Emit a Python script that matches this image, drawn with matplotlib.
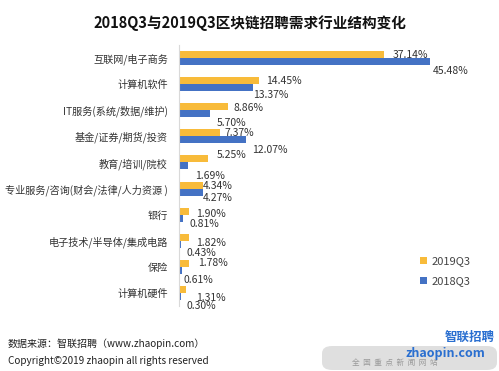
import matplotlib
matplotlib.use("Agg")
import matplotlib.pyplot as plt
from matplotlib.patches import FancyBboxPatch
import numpy as np

plt.rcParams['font.family'] = ['Noto Sans CJK SC', 'DejaVu Sans']

# data
categories = ["互联网/电子商务", "计算机软件", "IT服务(系统/数据/维护)", "基金/证券/期货/投资",
              "教育/培训/院校", "专业服务/咨询(财会/法律/人力资源 )", "银行",
              "电子技术/半导体/集成电路", "保险", "计算机硬件"]
q3_2019 = [37.14, 14.45, 8.86, 7.37, 5.25, 4.34, 1.90, 1.82, 1.78, 1.31]
q3_2018 = [45.48, 13.37, 5.70, 12.07, 1.69, 4.27, 0.81, 0.43, 0.61, 0.30]

# label offsets in pixels (dx from bar end, dy downward from bar centre)
off_2019 = [(9, 0), (7, 0), (6, 1), (5, 0), (9, -4), (0, 1), (6.5, 3), (7, 6), (9, 0), (10, 9)]
off_2018 = [(3, 9.5), (0, 7), (6, 9), (6, 10), (7, 10), (0, 6), (6.5, 6), (5, 9), (1, 10), (6, 10)]

c_2019 = "#F8BB3A"
c_2018 = "#4472C4"

W, H = 499, 371
fig = plt.figure(figsize=(W / 100, H / 100), dpi=100)
ax = fig.add_axes([179 / W, 1 - 306 / H, (455 - 179) / W, (306 - 45) / H])

y = np.arange(len(categories))
h = 0.268
ax.barh(y - h / 2, q3_2019, height=h, color=c_2019, label="2019Q3")
ax.barh(y + h / 2, q3_2018, height=h, color=c_2018, label="2018Q3")

for i in range(len(categories)):
    dx, dy = off_2019[i]
    ax.annotate(f"{q3_2019[i]:.2f}%", (q3_2019[i], y[i] - h / 2), xytext=(dx * 0.72, -dy * 0.72),
                textcoords="offset points", ha="left", va="center", fontsize=7.5, color="#333333")
    dx, dy = off_2018[i]
    ax.annotate(f"{q3_2018[i]:.2f}%", (q3_2018[i], y[i] + h / 2), xytext=(dx * 0.72, -dy * 0.72),
                textcoords="offset points", ha="left", va="center", fontsize=7.5, color="#333333")

ax.set_xlim(0, 50)
ax.set_ylim(9.5, -0.5)
ax.set_yticks(y)
ax.set_yticklabels(categories, fontsize=7.3, color="#333333")
ax.tick_params(axis="y", length=0, pad=8)
ax.set_xticks([])
for s in ["top", "right", "bottom"]:
    ax.spines[s].set_visible(False)
ax.spines["left"].set_color("#D9D9D9")
ax.spines["left"].set_linewidth(0.8)

ax.legend(loc="upper left", bbox_to_anchor=(410 / W, 1 - 246 / H), bbox_transform=fig.transFigure,
          frameon=False, fontsize=8, handlelength=0.6, handleheight=0.6, handletextpad=0.4,
          labelspacing=0.9, labelcolor="#444444")

fig.text(0.5, 1 - 23 / H, "2018Q3与2019Q3区块链招聘需求行业结构变化", ha="center", va="center",
         fontsize=10.5, fontweight="bold", color="#111111")

fig.text(8 / W, 1 - 344 / H, "数据来源：智联招聘（www.zhaopin.com）", ha="left", va="center",
         fontsize=7.2, color="#222222")
fig.text(8 / W, 1 - 361 / H, "Copyright©2019 zhaopin all rights reserved", ha="left", va="center",
         fontsize=7.2, color="#222222")

# watermark-ish logo area
box = FancyBboxPatch((322 / W, 1 - 370 / H), 175 / W, 24 / H, boxstyle="round,pad=0,rounding_size=0.02",
                     transform=fig.transFigure, facecolor="#D8D8D8", edgecolor="none", alpha=0.8)
fig.patches.append(box)
fig.text(470 / W, 1 - 337 / H, "智联招聘", ha="center", va="center", fontsize=9,
         fontweight="bold", style="italic", color="#2A6FD0")
fig.text(445 / W, 1 - 353 / H, "zhaopin.com", ha="center", va="center", fontsize=9,
         fontweight="bold", color="#2A6FD0")
fig.text(395 / W, 1 - 363 / H, "全  国  重  点  新  闻  网  站", ha="center", va="center", fontsize=5.5,
         color="#999999")

fig.savefig("out.png", dpi=100)
